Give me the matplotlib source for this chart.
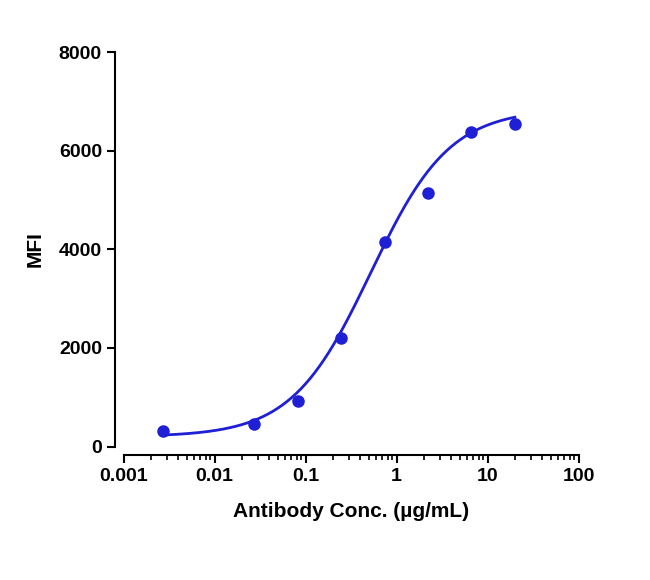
import numpy as np
import matplotlib.pyplot as plt
from matplotlib.ticker import LogLocator, NullFormatter, FixedLocator

plt.rcParams['font.family'] = ['Liberation Sans', 'DejaVu Sans']
plt.rcParams['font.weight'] = 'bold'

conc = [0.00274, 0.0274, 0.0823, 0.247, 0.741, 2.22, 6.67, 20.0]
mfi = [310, 460, 920, 2200, 4150, 5150, 6380, 6550]

# 4PL fit parameters: bottom, top, EC50, hill
bottom, top, ec50, hill = 200, 6850, 0.52, 1.0

color = '#1f1fd6'
fig = plt.figure(figsize=(6.5, 5.8), dpi=100)
ax = fig.add_axes([0.19, 0.23, 0.70, 0.68])

xf = np.logspace(np.log10(conc[0]), np.log10(conc[-1]), 300)
yf = bottom + (top - bottom) / (1 + (ec50 / xf) ** hill)
ax.plot(xf, yf, color=color, lw=2)
ax.plot(conc, mfi, 'o', color=color, ms=8)

ax.set_xscale('log')
ax.set_xlim(0.001, 100)
ax.set_ylim(0, 8000)
ax.set_yticks([0, 2000, 4000, 6000, 8000])
ax.xaxis.set_major_locator(FixedLocator([0.001, 0.01, 0.1, 1, 10, 100]))
ax.set_xticklabels(['0.001', '0.01', '0.1', '1', '10', '100'])
ax.xaxis.set_minor_locator(LogLocator(base=10, subs=np.arange(2, 10)))
ax.xaxis.set_minor_formatter(NullFormatter())
for s in ['top', 'right']:
    ax.spines[s].set_visible(False)
for s in ['left', 'bottom']:
    ax.spines[s].set_linewidth(1.5)
ax.spines['left'].set_position(('outward', 6))
ax.spines['bottom'].set_position(('outward', 6))
ax.tick_params(width=1.5, length=6, labelsize=14)
ax.tick_params(which='minor', width=1.2, length=3.5)
ax.set_xlabel('Antibody Conc. (µg/mL)', fontsize=15, fontweight='bold', labelpad=12)
ax.set_ylabel('MFI', fontsize=15, fontweight='bold', labelpad=10)

fig.savefig('out.png', dpi=100)
